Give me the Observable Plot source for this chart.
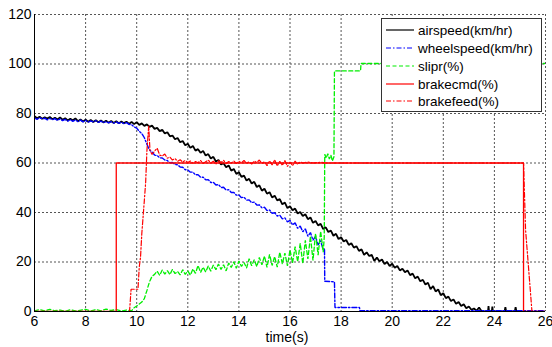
<!DOCTYPE html>
<html>
<head>
<meta charset="utf-8">
<script src="https://cdn.jsdelivr.net/npm/d3@7"></script>
<script src="https://cdn.jsdelivr.net/npm/@observablehq/plot@0.6"></script>
<style>
  html, body { margin: 0; padding: 0; background: #fff; }
  svg { font-family: "Liberation Sans", Arial, sans-serif; }
</style>
</head>
<body>
<div id="chart"></div>
<script>
const xTicks = [6, 8, 10, 12, 14, 16, 18, 20, 22, 24, 26];
const yTicks = [0, 20, 40, 60, 80, 100, 120];
const seriesNames = ["airspeed(km/hr)", "wheelspeed(km/hr)", "slipr(%)", "brakecmd(%)", "brakefeed(%)"];
const xLabel = "time(s)";

// airspeed (km/hr): [time s, value]
const airspeed = [
[6.0,78.9],[6.1,78.1],[6.2,78.7],[6.3,77.9],[6.4,78.5],[6.5,78.0],[6.6,78.6],[6.7,77.7],[6.8,78.3],[6.9,77.6],
[7.0,78.4],[7.1,77.5],[7.2,78.1],[7.3,77.2],[7.4,77.9],[7.5,77.3],[7.6,78.0],[7.7,76.9],[7.8,77.6],[7.9,76.8],
[8.0,77.5],[8.1,76.7],[8.2,77.4],[8.3,76.6],[8.4,77.3],[8.5,76.5],[8.6,77.2],[8.7,76.4],[8.8,77.1],[8.9,76.3],
[9.0,77.0],[9.1,76.2],[9.2,76.9],[9.3,76.0],[9.4,76.8],[9.5,76.1],[9.6,76.7],[9.7,75.8],[9.8,76.6],[9.9,75.7],
[10.0,76.5],[10.1,75.4],[10.2,76.0],[10.3,75.0],[10.4,75.6],[10.5,74.6],[10.6,75.1],[10.7,73.8],[10.8,74.2],[10.9,72.9],
[11.0,73.4],[11.1,71.9],[11.2,72.4],[11.3,70.8],[11.4,71.1],[11.5,69.6],[11.6,70.1],[11.7,68.4],[11.8,68.9],[11.9,67.2],
[12.0,67.8],[12.1,66.1],[12.2,66.9],[12.3,65.0],[12.4,65.6],[12.5,64.1],[12.6,64.9],[12.7,63.0],[12.8,63.6],[12.9,61.8],
[13.0,62.5],[13.1,60.6],[13.2,61.2],[13.3,59.4],[13.4,59.9],[13.5,58.3],[13.6,59.0],[13.7,56.9],[13.8,57.6],[13.9,55.6],
[14.0,56.3],[14.1,54.4],[14.2,54.9],[14.3,52.9],[14.4,53.6],[14.5,51.7],[14.6,52.4],[14.7,50.3],[14.8,51.0],[14.9,48.8],
[15.0,49.6],[15.1,47.6],[15.2,48.2],[15.3,46.1],[15.4,46.8],[15.5,44.9],[15.6,45.4],[15.7,43.3],[15.8,44.0],[15.9,41.8],
[16.0,42.5],[16.1,40.9],[16.2,41.6],[16.3,39.6],[16.4,40.2],[16.5,38.6],[16.6,39.3],[16.7,37.3],[16.8,38.0],[16.9,35.8],
[17.0,36.6],[17.1,34.8],[17.2,35.4],[17.3,33.3],[17.4,34.0],[17.5,32.1],[17.6,32.7],[17.7,30.6],[17.8,31.4],[17.9,29.3],
[18.0,30.0],[18.1,28.3],[18.2,28.9],[18.3,26.9],[18.4,27.6],[18.5,25.8],[18.6,26.4],[18.7,24.5],[18.8,25.1],[18.9,22.9],
[19.0,23.9],[19.1,22.4],[19.2,22.9],[19.3,20.4],[19.4,21.8],[19.5,20.3],[19.6,21.0],[19.7,19.2],[19.8,20.0],[19.9,18.4],
[20.0,19.3],[20.1,17.7],[20.2,18.4],[20.3,16.6],[20.4,17.3],[20.5,15.9],[20.6,16.6],[20.7,14.7],[20.8,15.3],[20.9,13.4],
[21.0,14.1],[21.1,12.2],[21.2,12.8],[21.3,10.9],[21.4,11.6],[21.5,9.0],[21.6,10.3],[21.7,8.1],[21.8,8.9],[21.9,6.6],
[22.0,7.4],[22.1,5.4],[22.2,6.0],[22.3,4.2],[22.4,4.9],[22.5,3.1],[22.6,3.8],[22.7,2.2],[22.8,2.9],[22.9,1.3],
[23.0,2.0],[23.1,0.7],[23.2,1.2],[23.3,0.3],[23.4,1.6],[23.5,0.1],[23.6,0.0],[23.75,0.0],[23.77,2.2],[23.79,0.0],
[23.9,0.0],[23.92,2.0],[23.94,0.0],[24.4,0.0],[24.43,1.8],[24.46,0.0],[24.8,0.0],[24.83,1.8],[24.86,0.0],[25.0,0.0]
];

// wheelspeed (km/hr)
const wheelspeed = [
[6.0,78.2],[6.1,77.6],[6.2,78.4],[6.3,77.8],[6.4,78.1],[6.5,77.4],[6.6,78.0],[6.7,77.5],[6.8,77.9],[6.9,77.2],
[7.0,77.8],[7.1,77.1],[7.2,77.6],[7.3,76.9],[7.4,77.5],[7.5,76.8],[7.6,77.4],[7.7,76.7],[7.8,77.3],[7.9,76.6],
[8.0,77.2],[8.1,76.5],[8.2,77.0],[8.3,76.6],[8.4,77.1],[8.5,76.4],[8.6,76.9],[8.7,76.3],[8.8,76.8],[8.9,76.2],
[9.0,76.7],[9.1,76.1],[9.2,76.6],[9.3,76.0],[9.4,76.5],[9.5,75.9],[9.6,76.3],[9.7,75.6],[9.8,75.5],[9.9,74.6],
[10.0,74.1],[10.1,72.8],[10.2,71.9],[10.3,70.2],[10.4,67.6],[10.5,65.3],[10.6,64.4],[10.7,63.2],[10.8,63.0],[10.9,62.1],
[11.0,62.0],[11.1,61.2],[11.2,61.0],[11.3,60.1],[11.4,60.2],[11.5,59.4],[11.6,59.3],[11.7,58.4],[11.8,58.3],[11.9,57.3],
[12.0,57.2],[12.1,56.3],[12.2,56.3],[12.3,55.2],[12.4,55.3],[12.5,54.2],[12.6,54.3],[12.7,53.2],[12.8,53.3],[12.9,52.1],
[13.0,52.2],[13.1,51.1],[13.2,51.3],[13.3,50.1],[13.4,50.2],[13.5,49.1],[13.6,49.2],[13.7,48.1],[13.8,48.1],[13.9,47.0],
[14.0,47.1],[14.1,46.0],[14.2,46.2],[14.3,45.0],[14.4,45.1],[14.5,44.0],[14.6,44.2],[14.7,43.0],[14.8,43.1],[14.9,41.9],
[15.0,42.1],[15.1,40.8],[15.2,41.0],[15.3,39.7],[15.4,39.9],[15.5,38.6],[15.6,38.9],[15.7,37.4],[15.8,37.8],[15.9,36.2],
[16.0,36.8],[16.1,35.0],[16.2,35.8],[16.3,33.6],[16.4,34.5],[16.5,32.2],[16.6,33.4],[16.7,30.4],[16.8,31.9],[16.9,28.8],
[17.0,30.3],[17.1,26.9],[17.2,28.6],[17.3,24.8],[17.35,25.5],[17.36,12.2],[17.74,12.0],[17.76,1.6],[18.72,1.6],[18.74,0.3],
[26.0,0.3]
];

// slipr (%)
const slipr = [
[6.0,0.3],[6.2,0.8],[6.4,0.2],[6.6,0.9],[6.8,0.3],[7.0,0.6],[7.2,0.1],[7.4,0.7],[7.6,0.2],[7.8,0.5],
[8.0,0.9],[8.2,0.2],[8.4,0.8],[8.6,0.3],[8.8,1.0],[9.0,0.4],[9.2,0.8],[9.4,0.2],[9.6,0.6],[9.8,0.3],
[9.9,1.5],[10.0,2.2],[10.1,3.0],[10.2,3.8],[10.3,5.2],[10.4,8.5],[10.5,12.0],[10.6,14.2],[10.7,15.0],[10.8,16.3],
[10.9,14.6],[11.0,16.8],[11.1,15.1],[11.2,16.5],[11.3,14.9],[11.4,17.0],[11.5,15.3],[11.6,16.2],[11.7,14.8],[11.8,16.9],
[11.9,15.0],[12.0,16.4],[12.1,14.7],[12.2,17.2],[12.3,15.4],[12.4,18.6],[12.5,15.8],[12.6,17.9],[12.7,16.0],[12.8,18.4],
[12.9,16.3],[13.0,18.8],[13.1,16.9],[13.2,19.2],[13.3,17.0],[13.4,18.9],[13.5,16.4],[13.6,19.6],[13.7,17.8],[13.8,20.1],
[13.9,17.5],[14.0,20.4],[14.1,18.2],[14.2,19.8],[14.3,17.6],[14.4,21.3],[14.5,18.5],[14.6,20.9],[14.7,18.1],[14.8,21.8],
[14.9,18.9],[15.0,22.4],[15.1,17.8],[15.2,23.1],[15.3,18.6],[15.4,22.2],[15.5,17.9],[15.6,24.0],[15.7,19.3],[15.8,23.6],
[15.9,18.4],[16.0,24.9],[16.1,19.6],[16.2,26.2],[16.3,20.1],[16.4,27.5],[16.5,19.4],[16.6,28.8],[16.7,21.2],[16.8,30.4],
[16.9,20.6],[17.0,31.6],[17.1,22.8],[17.2,32.4],[17.3,24.0],[17.34,30.0],[17.36,63.5],[17.42,62.0],[17.48,63.8],[17.54,61.6],
[17.6,63.2],[17.66,60.8],[17.72,62.5],[17.74,97.2],[18.76,97.2],[18.78,100.2],[26.0,100.2]
];

// brakecmd (%)
const brakecmd = [
[6.0,0],[9.2,0],[9.2,60],[25.14,60],[25.14,0],[26.0,0]
];

// brakefeed (%)
const brakefeed = [
[6.0,0],[9.72,0],[9.78,9],[10.05,9],[10.1,18],[10.15,22],[10.2,31.5],[10.3,45],[10.35,52],[10.4,65],
[10.47,75],[10.52,65],[10.6,63.5],[10.7,64.8],[10.8,66.0],[10.9,63.2],[11.0,62.8],[11.1,63.6],[11.2,61.9],[11.3,62.4],
[11.4,61.2],[11.5,61.8],[11.6,60.7],[11.7,61.3],[11.8,60.4],[11.9,61.0],[12.0,60.2],[12.1,60.8],[12.2,59.9],[12.3,60.6],
[12.4,60.1],[12.5,61.0],[12.6,59.8],[12.7,60.5],[12.8,61.2],[12.9,60.0],[13.0,60.7],[13.1,59.6],[13.2,60.9],[13.3,60.2],
[13.4,61.1],[13.5,59.7],[13.6,60.6],[13.7,60.0],[13.8,60.8],[13.9,59.8],[14.0,60.7],[14.1,60.1],[14.2,61.0],[14.3,59.9],
[14.4,60.5],[14.5,59.6],[14.6,60.8],[14.7,60.2],[14.8,61.2],[14.9,59.8],[15.0,60.6],[15.1,58.9],[15.2,60.9],[15.3,59.2],
[15.4,61.3],[15.5,58.8],[15.6,60.7],[15.7,59.0],[15.8,61.0],[15.9,58.6],[16.0,60.4],[16.1,58.9],[16.2,60.8],[16.3,59.4],
[16.4,60.5],[16.5,60.0],[16.7,60.4],[16.9,60.0],[17.2,60.3],[17.4,60.0],[25.14,60],[25.22,33],[25.47,0],[26.0,0]
];

const colors = ["#000000", "#0000ff", "#00ee00", "#ff0000", "#ff0000"];
const dashes = [null, "5,2,1.5,2", "4,2.5", null, "5,2,1.5,2"];
const widths = [1.8, 1.4, 1.3, 1.3, 1.2];
const allSeries = [airspeed, wheelspeed, slipr, brakecmd, brakefeed];

const FS = 14;
const LFS = 13.5;
const W = 552, H = 347;
const chart = Plot.plot({
  width: W,
  height: H,
  marginLeft: 34,
  marginRight: 7,
  marginTop: 14,
  marginBottom: 36,
  style: {fontFamily: "'Liberation Sans', Arial, sans-serif", fontSize: FS + "px", background: "#fff", color: "#000"},
  x: {domain: [6, 26], ticks: xTicks, label: null},
  y: {domain: [0, 120], ticks: yTicks, label: null},
  marks: [
    Plot.ruleX(xTicks, {stroke: "#555", strokeDasharray: "2,2", strokeWidth: 1, strokeOpacity: 1}),
    Plot.ruleY(yTicks, {stroke: "#555", strokeDasharray: "2,2", strokeWidth: 1, strokeOpacity: 1}),
    ...allSeries.map((s, i) => Plot.line(s, {
      x: d => d[0], y: d => d[1],
      stroke: colors[i], strokeWidth: widths[i],
      strokeDasharray: dashes[i] || undefined,
      strokeLinejoin: "miter", curve: "linear", clip: true
    })),
    Plot.ruleX([6], {stroke: "#000", strokeWidth: 1}),
    Plot.ruleY([0], {stroke: "#000", strokeWidth: 1}),
    Plot.axisX({ticks: xTicks, tickSize: 0, tickPadding: 5, fontSize: FS, label: null, tickFormat: d => String(d)}),
    Plot.axisY({ticks: yTicks, tickSize: 0, tickPadding: 3, fontSize: FS, label: null, tickFormat: d => String(d)})
  ]
});

const svg = d3.select(chart);
// x-axis title
svg.append("text").attr("x", 287).attr("y", 342).attr("text-anchor", "middle")
  .attr("font-size", FS).attr("fill", "#000").text(xLabel);

// Legend inside the plot area (top-right)
const lg = svg.append("g").attr("class", "legend").attr("text-anchor", "start");
const lx = 381, ly = 18, lw = 160, lh = 93;
lg.append("rect").attr("x", lx + 0.5).attr("y", ly + 0.5).attr("width", lw).attr("height", lh)
  .attr("fill", "#fff").attr("stroke", "#333").attr("stroke-width", 1);
const rowY = [30, 48, 66, 84, 101];
seriesNames.forEach((name, i) => {
  lg.append("line").attr("x1", 386).attr("x2", 414).attr("y1", rowY[i]).attr("y2", rowY[i])
    .attr("stroke", colors[i]).attr("stroke-width", 1.2)
    .attr("stroke-dasharray", dashes[i]);
  lg.append("text").attr("x", 418).attr("y", rowY[i]).attr("dy", "0.35em")
    .attr("text-anchor", "start")
    .attr("font-size", LFS).attr("fill", "#000").text(name);
});

document.getElementById("chart").appendChild(chart);
</script>
</body>
</html>
